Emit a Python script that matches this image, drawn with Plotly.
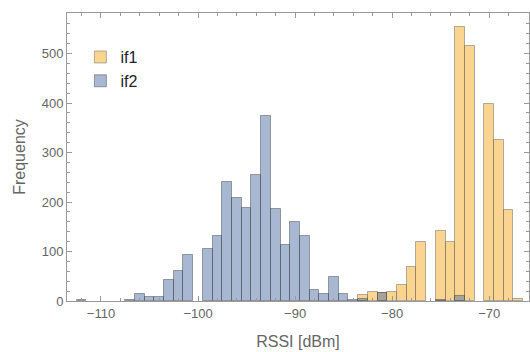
import plotly.graph_objects as go

# Bin centres (RSSI values, dBm) – bins of width 1
bins = list(range(-112, -66))

# Counts per bin
if2_counts = [2, 0, 0, 0, 0, 3, 14, 9, 9, 42, 60, 92, 0, 106, 131, 240, 209, 188,
              254, 373, 186, 113, 160, 131, 23, 15, 48, 14, 3, 4, 0, 17, 0, 0,
              0, 0, 0, 3, 0, 10, 0, 0, 0, 0, 0, 0]
if1_counts = [0, 0, 0, 0, 0, 0, 0, 0, 0, 0, 0, 0, 0, 0, 0, 0, 0, 0,
              0, 0, 0, 0, 0, 0, 0, 0, 0, 0, 0, 12, 18, 17, 18, 33,
              68, 120, 0, 142, 120, 554, 516, 0, 398, 325, 184, 5]

x_ticks = [-110, -100, -90, -80, -70]
y_ticks = [0, 100, 200, 300, 400, 500]

font = "Liberation Sans, Arial, sans-serif"
frame_col = "#9a9a9a"
label_col = "#666666"


def nz(xs, ys):
    pairs = [(a, b) for a, b in zip(xs, ys) if b > 0]
    return [p[0] for p in pairs], [p[1] for p in pairs]


fig = go.Figure()
x1, y1 = nz(bins, if1_counts)
x2, y2 = nz(bins, if2_counts)
fig.add_trace(go.Bar(x=x1, y=y1, width=1, name="if1",
                     marker=dict(color="rgba(247,171,31,0.5)",
                                 line=dict(color="rgba(90,90,90,0.45)", width=1))))
fig.add_trace(go.Bar(x=x2, y=y2, width=1, name="if2",
                     marker=dict(color="rgba(81,113,167,0.5)",
                                 line=dict(color="rgba(60,60,60,0.45)", width=1))))

axis_common = dict(showline=True, linecolor=frame_col, linewidth=1, mirror="allticks",
                   ticks="inside", ticklen=5, tickcolor=frame_col, tickwidth=1,
                   showgrid=False, zeroline=False,
                   tickfont=dict(family=font, size=13, color=label_col))

fig.update_layout(
    width=530, height=352,
    margin=dict(l=67, r=1, t=13, b=51),
    paper_bgcolor="white", plot_bgcolor="white",
    barmode="overlay", bargap=0,
    font=dict(family=font),
    showlegend=True,
    legend=dict(x=0.029, y=0.906, xanchor="left", yanchor="top",
                bgcolor="rgba(0,0,0,0)", font=dict(family=font, size=16, color="#222222"),
                traceorder="normal"),
    xaxis=dict(range=[-113.5, -65.9], tickvals=x_ticks,
               minor=dict(dtick=2, tick0=-110, ticks="inside", ticklen=3, tickcolor=frame_col),
               title=dict(text="RSSI [dBm]", font=dict(family=font, size=16, color=label_col),
                          standoff=16),
               **axis_common),
    yaxis=dict(range=[0, 582], tickvals=y_ticks,
               minor=dict(dtick=20, tick0=0, ticks="inside", ticklen=3, tickcolor=frame_col),
               title=dict(text="Frequency", font=dict(family=font, size=16, color=label_col),
                          standoff=12),
               **axis_common),
)

fig.write_html("out.html")
